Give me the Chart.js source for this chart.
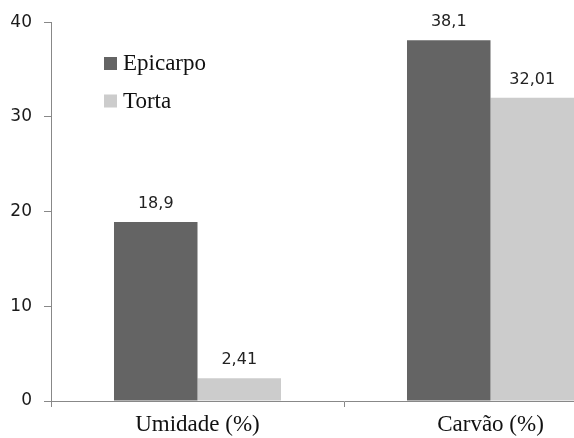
<!DOCTYPE html>
<html>
<head>
<meta charset="utf-8">
<script src="https://cdn.jsdelivr.net/npm/chart.js@4/dist/chart.umd.min.js"></script>
<style>
  html, body { margin: 0; padding: 0; background: #fff; overflow: hidden; }
  #wrap { position: relative; width: 637px; height: 438px; }
</style>
</head>
<body>
<div id="wrap"><canvas id="c"></canvas></div>
<script>
// Categories, series and ticks
const categories = ['Umidade (%)', 'Carvão (%)'];
const epicarpo = [18.9, 38.1];
const torta = [2.41, 32.01];
const seriesNames = ['Epicarpo', 'Torta'];
const yTicks = [0, 10, 20, 30, 40];

const colors = ['#646464', '#cccccc'];
const fmt = v => String(v).replace('.', ',');

// Value labels above each bar
const valueLabels = {
  id: 'valueLabels',
  afterDatasetsDraw(chart) {
    const ctx = chart.ctx;
    ctx.save();
    ctx.font = '16px "DejaVu Sans"';
    ctx.fillStyle = '#222';
    ctx.textAlign = 'center';
    ctx.textBaseline = 'alphabetic';
    chart.data.datasets.forEach((ds, i) => {
      chart.getDatasetMeta(i).data.forEach((bar, j) => {
        ctx.fillText(fmt(ds.data[j]), bar.x, bar.y - 14);
      });
    });
    ctx.restore();
  }
};

// Legend drawn inside the plot area
const innerLegend = {
  id: 'innerLegend',
  afterDraw(chart) {
    const ctx = chart.ctx;
    ctx.save();
    ctx.font = '23px "Liberation Serif"';
    ctx.textBaseline = 'alphabetic';
    chart.data.datasets.forEach((ds, i) => {
      const top = 57 + i * 37.5;
      ctx.fillStyle = ds.backgroundColor;
      ctx.fillRect(104, top, 13, 13);
      ctx.fillStyle = '#111';
      ctx.fillText(ds.label, 123, top + 13);
    });
    ctx.restore();
  }
};

new Chart(document.getElementById('c'), {
  type: 'bar',
  data: {
    labels: categories,
    datasets: [
      { label: seriesNames[0], data: epicarpo, backgroundColor: colors[0] },
      { label: seriesNames[1], data: torta, backgroundColor: colors[1] }
    ]
  },
  options: {
    responsive: true,
    maintainAspectRatio: false,
    animation: false,
    devicePixelRatio: 1,
    layout: { padding: { top: 20, left: 0, right: 0, bottom: 0 } },
    datasets: { bar: { categoryPercentage: 0.57, barPercentage: 1.0 } },
    plugins: { legend: { display: false }, tooltip: { enabled: false } },
    scales: {
      x: {
        offset: true,
        grid: { drawOnChartArea: false, offset: true, tickLength: 6, color: '#888' },
        border: { color: '#888', width: 1 },
        ticks: { color: '#111', font: { family: 'Liberation Serif', size: 23 }, padding: 4 },
        afterFit(s) { s.height = 37; }
      },
      y: {
        min: 0, max: 40,
        afterBuildTicks(s) { s.ticks = yTicks.map(v => ({ value: v })); },
        grid: { drawOnChartArea: false, tickLength: 7, color: '#888' },
        border: { color: '#888', width: 1 },
        ticks: { color: '#1a1a1a', font: { family: 'DejaVu Sans', size: 17 }, padding: 12 },
        afterFit(s) { s.width = 51; }
      }
    }
  },
  plugins: [valueLabels, innerLegend]
});
</script>
</body>
</html>
